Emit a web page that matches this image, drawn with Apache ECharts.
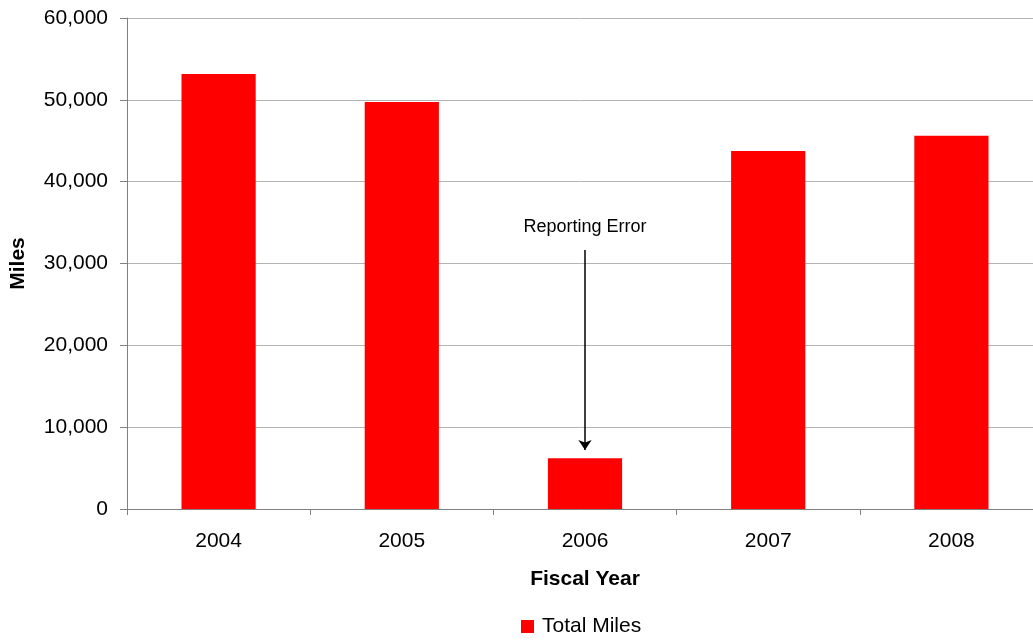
<!DOCTYPE html>
<html>
<head>
<meta charset="utf-8">
<script src="https://cdn.jsdelivr.net/npm/echarts@6/dist/echarts.min.js"></script>
<style>
html, body { margin: 0; padding: 0; background: #fff; }
#main { width: 1033px; height: 642px; }
</style>
</head>
<body>
<div id="main"></div>
<script>
// 财年与里程数据
var years = ['2004', '2005', '2006', '2007', '2008'];
var totalMiles = [53150, 49750, 6200, 43750, 45600];
// 标注箭头的起止值
var noteYear = '2006';
var noteFrom = 31650;
var noteTo = 7200;

var font = 'Liberation Sans, Arial, sans-serif';

var myChart = echarts.init(document.getElementById('main'));
myChart.setOption({
	animation : false,
	textStyle : { fontFamily : font },
	grid : { left : 127, width : 916, top : 18, height : 491, outerBoundsMode : 'none', containLabel : false },
	legend : {
		bottom : 0,
		left : 516,
		itemWidth : 13,
		itemHeight : 13,
		icon : 'rect',
		textStyle : { fontSize : 21, color : '#000', fontFamily : font, padding : [0, 0, 0, 3] },
		data : ['Total Miles']
	},
	xAxis : {
		type : 'category',
		data : years,
		name : 'Fiscal Year',
		nameLocation : 'middle',
		nameGap : 60,
		nameTextStyle : { fontSize : 21, fontWeight : 'bold', color : '#000' },
		axisLine : { lineStyle : { color : '#808080', width : 1 } },
		axisTick : { show : true, length : 6, lineStyle : { color : '#808080' } },
		axisLabel : { fontSize : 21, color : '#000', margin : 22 }
	},
	yAxis : {
		type : 'value',
		min : 0,
		max : 60000,
		interval : 10000,
		name : 'Miles',
		nameLocation : 'middle',
		nameGap : 98,
		nameTextStyle : { fontSize : 21, fontWeight : 'bold', color : '#000' },
		axisLine : { show : true, lineStyle : { color : '#808080' } },
		axisTick : { show : true, length : 7, lineStyle : { color : '#808080' } },
		axisLabel : {
			fontSize : 21, color : '#000', margin : 19,
			formatter : function(v) { return v.toLocaleString('en-US'); }
		},
		splitLine : { lineStyle : { color : '#b4b4b4', width : 1 } }
	},
	series : [{
		name : 'Total Miles',
		type : 'bar',
		data : totalMiles,
		barWidth : '40.5%',
		itemStyle : { color : '#ff0000' },
		markLine : {
			silent : true,
			symbol : ['none', 'arrow'],
			symbolSize : [10, 10],
			lineStyle : { color : '#000', width : 1.5, type : 'solid' },
			label : {
				show : true,
				position : 'start',
				formatter : 'Reporting Error',
				fontSize : 18,
				color : '#000',
				distance : 14
			},
			data : [[
				{ coord : [noteYear, noteFrom] },
				{ coord : [noteYear, noteTo] }
			]]
		}
	}]
});
</script>
</body>
</html>
